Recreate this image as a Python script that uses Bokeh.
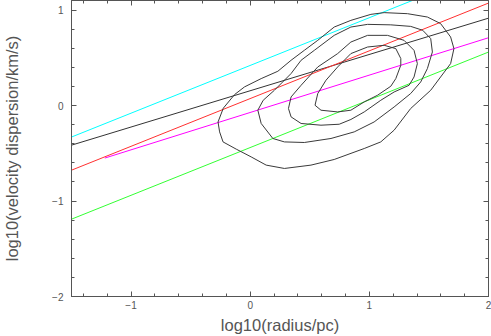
from bokeh.plotting import figure
from bokeh.models import LinearAxis, FixedTicker, Range1d
from bokeh.embed import file_html
from bokeh.resources import INLINE

# ---------------- data ----------------
x_limits = [-1.5, 2.0]
y_limits = [-2.0, 1.1]
x_major = [-1, 0, 1, 2]
y_major = [-2, -1, 0, 1]
x_minor = [-1.4, -1.2, -0.8, -0.6, -0.4, -0.2, 0.2, 0.4, 0.6, 0.8, 1.2, 1.4, 1.6, 1.8]
y_minor = [-1.8, -1.6, -1.4, -1.2, -0.8, -0.6, -0.4, -0.2, 0.2, 0.4, 0.6, 0.8, 1.0]
x_tick_labels = {-1: "\u22121", 0: "0", 1: "1", 2: "2"}
y_tick_labels = {-2: "\u22122", -1: "\u22121", 0: "0", 1: "1"}

# straight relations (end points)
cyan_x = [-1.5, 2.0]
cyan_y = [-0.33, 1.42]
black_x = [-1.5, 2.0]
black_y = [-0.415, 0.915]
red_x = [-1.5, 2.0]
red_y = [-0.677, 1.073]
magenta_x = [-1.22, 2.0]
magenta_y = [-0.55, 0.71]
green_x = [-1.5, 2.0]
green_y = [-1.19, 0.56]

# density contours (outer -> inner)
c1_x = [-0.270, -0.257, -0.228, -0.117, 0.008, 0.134, 0.287, 0.510, 0.705, 0.957, 1.096,
        1.208, 1.347, 1.515, 1.598, 1.682, 1.710, 1.682, 1.598, 1.487, 1.320, 1.124, 1.013,
        0.845, 0.705, 0.567, 0.454, 0.343, 0.232, 0.092, -0.048, -0.131, -0.226, -0.270]
c1_y = [-0.172, -0.276, -0.381, -0.457, -0.538, -0.624, -0.659, -0.624, -0.565, -0.450, -0.381,
        -0.258, -0.031, 0.160, 0.299, 0.439, 0.596, 0.718, 0.858, 0.927, 0.962, 0.973, 0.955,
        0.892, 0.822, 0.683, 0.578, 0.474, 0.359, 0.282, 0.195, 0.115, -0.028, -0.172]

c2_x = [0.064, 0.092, 0.190, 0.287, 0.454, 0.678, 0.873, 1.040, 1.208, 1.347, 1.431, 1.487,
        1.529, 1.515, 1.448, 1.347, 1.180, 0.985, 0.845, 0.705, 0.538, 0.427, 0.343, 0.203,
        0.109, 0.064]
c2_y = [-0.049, -0.188, -0.345, -0.381, -0.387, -0.345, -0.276, -0.172, -0.015, 0.126, 0.247,
        0.387, 0.561, 0.701, 0.788, 0.829, 0.845, 0.850, 0.822, 0.735, 0.578, 0.474, 0.335,
        0.160, 0.055, -0.049]

c3_x = [0.321, 0.343, 0.427, 0.594, 0.747, 0.845, 0.957, 1.096, 1.208, 1.333, 1.375, 1.403,
        1.375, 1.291, 1.152, 0.985, 0.845, 0.734, 0.567, 0.427, 0.343, 0.321]
c3_y = [-0.031, -0.119, -0.188, -0.206, -0.196, -0.146, -0.067, 0.055, 0.142, 0.212, 0.299,
        0.439, 0.578, 0.683, 0.735, 0.735, 0.665, 0.544, 0.404, 0.212, 0.090, -0.031]

c4_x = [0.544, 0.594, 0.734, 0.845, 0.957, 1.069, 1.180, 1.222, 1.264, 1.264, 1.222, 1.124,
        0.985, 0.845, 0.734, 0.636, 0.567, 0.544]
c4_y = [0.003, -0.049, -0.067, -0.049, 0.038, 0.108, 0.202, 0.282, 0.422, 0.492, 0.596, 0.631,
        0.613, 0.544, 0.404, 0.265, 0.126, 0.003]

# ---------------- styling ----------------
FONT = "Liberation Sans"
AXIS_COL = "#555555"
TEXT_COL = "#555555"
CONTOUR_COL = "#3a3a3a"

p = figure(width=491, height=336, output_backend="svg", toolbar_location=None,
           x_range=Range1d(*x_limits), y_range=Range1d(*y_limits),
           x_axis_label="log10(radius/pc)",
           y_axis_label="log10(velocity dispersion/km/s)",
           min_border_left=70, min_border_right=3, min_border_top=0, min_border_bottom=39)
p.styles = {"margin-top": "0px", "margin-left": "0px"}
p.grid.visible = False
p.background_fill_color = "white"
p.border_fill_color = "white"
p.outline_line_color = AXIS_COL
p.outline_line_width = 1

xt = FixedTicker(ticks=x_major, minor_ticks=x_minor)
yt = FixedTicker(ticks=y_major, minor_ticks=y_minor)


def style_axis(ax, ticker):
    ax.ticker = ticker
    ax.axis_line_color = AXIS_COL
    ax.major_tick_line_color = AXIS_COL
    ax.minor_tick_line_color = AXIS_COL
    ax.major_tick_in = 5
    ax.major_tick_out = 0
    ax.minor_tick_in = 3
    ax.minor_tick_out = 0
    ax.axis_label_text_font = FONT
    ax.axis_label_text_font_style = "normal"
    ax.axis_label_text_font_size = "16.5px"
    ax.axis_label_text_color = TEXT_COL
    ax.major_label_text_font = FONT
    ax.major_label_text_font_size = "10px"
    ax.major_label_text_color = TEXT_COL


style_axis(p.xaxis[0], xt)
style_axis(p.yaxis[0], yt)
p.xaxis[0].major_label_overrides = x_tick_labels
p.yaxis[0].major_label_overrides = y_tick_labels
p.xaxis[0].major_label_standoff = 4
p.xaxis[0].axis_label_standoff = 4
p.yaxis[0].major_label_standoff = 8
p.yaxis[0].axis_label_standoff = 28

# frame ticks on the top and right, without labels
top_ax = LinearAxis()
right_ax = LinearAxis()
style_axis(top_ax, xt)
style_axis(right_ax, yt)
top_ax.major_label_overrides = {t: "" for t in x_major}
right_ax.major_label_overrides = {t: "" for t in y_major}
for ax in (top_ax, right_ax):
    ax.major_label_text_font_size = "1px"
    ax.major_label_standoff = 0
p.add_layout(top_ax, "above")
p.add_layout(right_ax, "right")

# lines
p.line(cyan_x, cyan_y, line_color="#00ffff", line_width=1)
p.line(black_x, black_y, line_color="#333333", line_width=1)
p.line(red_x, red_y, line_color="#ff3030", line_width=1)
p.line(magenta_x, magenta_y, line_color="#ff00ff", line_width=1)
p.line(green_x, green_y, line_color="#33ff33", line_width=1)

for cx, cy in [(c1_x, c1_y), (c2_x, c2_y), (c3_x, c3_y), (c4_x, c4_y)]:
    p.line(cx, cy, line_color=CONTOUR_COL, line_width=1)

open("out.html", "w").write(file_html(p, INLINE))
